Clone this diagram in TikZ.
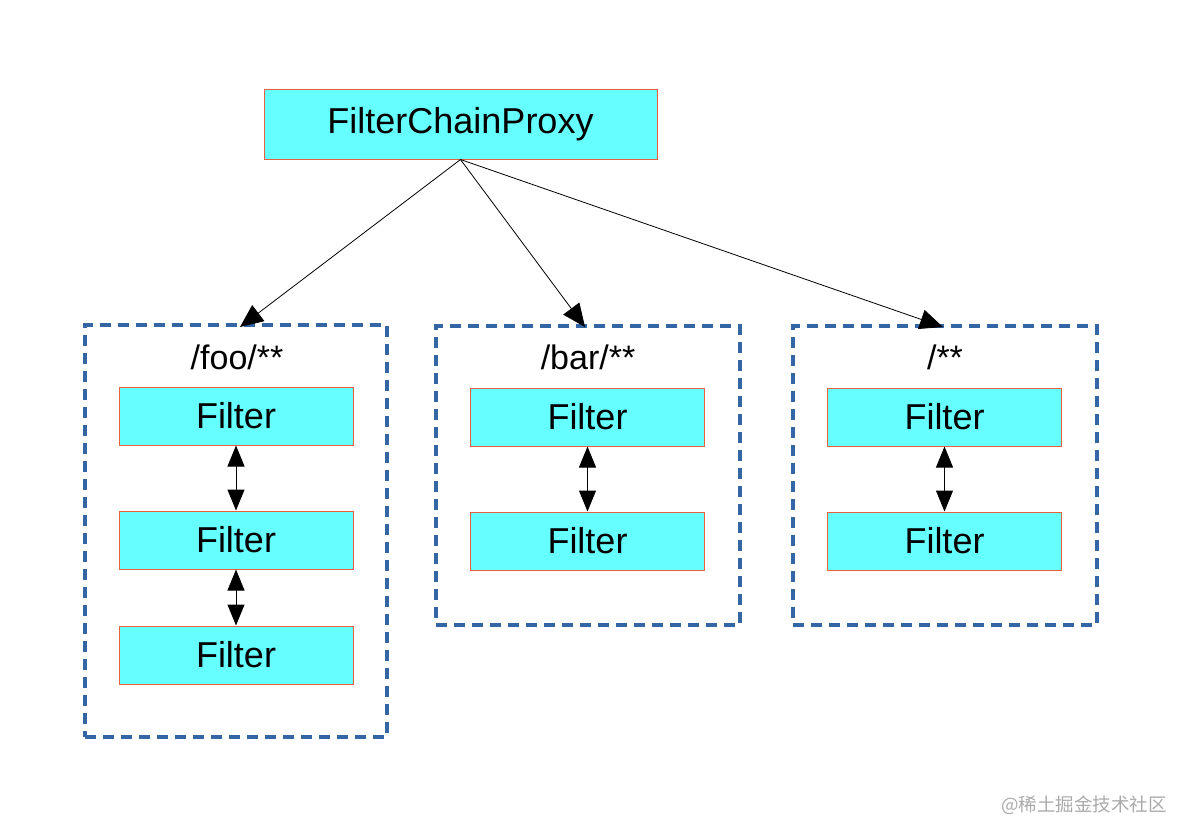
\documentclass[tikz,border=0pt]{standalone}
\usepackage{fontspec}
\setmainfont{Liberation Sans}
\newfontfamily\cjkfont{Noto Sans CJK SC}
\usetikzlibrary{arrows.meta}
\definecolor{boxfill}{HTML}{66FFFF}
\definecolor{boxline}{HTML}{E8603C}
\definecolor{grpline}{HTML}{3465A4}
\definecolor{wmark}{HTML}{AAAAAA}
\tikzset{
  fbox/.style={draw=boxline, fill=boxfill, line width=1pt, inner sep=0pt, minimum width=234pt, minimum height=58pt, font=\fontsize{36}{40}\selectfont},
  grp/.style={draw=grpline, line width=4pt, dash pattern=on 11pt off 7pt, inner sep=0pt},
  lbl/.style={font=\fontsize{34}{38}\selectfont, inner sep=0pt},
  conn/.style={draw=black, line width=0.8pt, -{Triangle[length=23pt,width=20pt]}},
  dconn/.style={draw=black, line width=1pt, {Triangle[length=21pt,width=17pt]}-{Triangle[length=21pt,width=17pt]}}
}
\begin{document}
\begin{tikzpicture}[x=1pt,y=-1pt]
\useasboundingbox (0,0) rectangle (1190,839);
\node[fbox, minimum width=393pt, minimum height=70pt] (fcp) at (460.5,124) {FilterChainProxy};
% groups
\node[grp, minimum width=302pt, minimum height=412pt] (g1) at (236,531) {};
\node[grp, minimum width=304pt, minimum height=299pt] (g2) at (588,475.5) {};
\node[grp, minimum width=304pt, minimum height=299pt] (g3) at (945,475.5) {};
% labels
\node[lbl] (l1) at (237,357) {/foo/**};
\node[lbl] (l2) at (588,357) {/bar/**};
\node[lbl] (l3) at (945,357) {/**};
% filters
\node[fbox] (a1) at (236,416) {Filter};
\node[fbox] (a2) at (236,540) {Filter};
\node[fbox] (a3) at (236,655) {Filter};
\node[fbox] (b1) at (587.5,417) {Filter};
\node[fbox] (b2) at (587.5,541) {Filter};
\node[fbox] (c1) at (944.5,417) {Filter};
\node[fbox] (c2) at (944.5,541) {Filter};
% connectors
\coordinate (e1) at (240,327);
\coordinate (e2) at (585,327);
\coordinate (e3) at (943,327);
\draw[conn] (fcp.south) -- (e1);
\draw[conn] (fcp.south) -- (e2);
\draw[conn] (fcp.south) -- (e3);
\draw[dconn] (a1.south) -- (a2.north);
\draw[dconn] (a2.south) -- (a3.north);
\draw[dconn] (b1.south) -- (b2.north);
\draw[dconn] (c1.south) -- (c2.north);
% watermark
\node[anchor=east, inner sep=0pt, text=wmark, font=\cjkfont\fontsize{18.5}{21}\selectfont] (wm) at (1167,805) {@稀土掘金技术社区};
\end{tikzpicture}
\end{document}
